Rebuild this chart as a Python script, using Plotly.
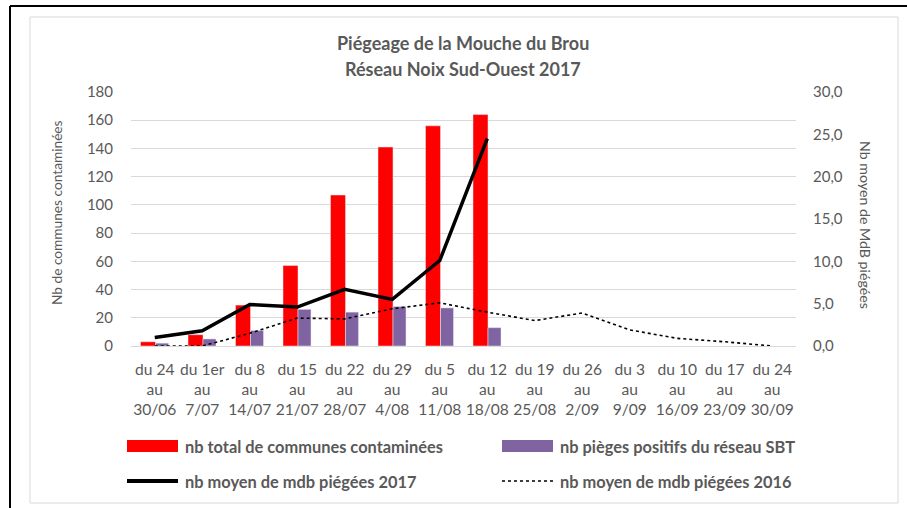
import plotly.graph_objects as go

# ---------------- data ----------------
periods = ["du 24<br>au<br>30/06", "du 1er<br>au<br>7/07", "du 8<br>au<br>14/07",
           "du 15<br>au<br>21/07", "du 22<br>au<br>28/07", "du 29<br>au<br>4/08",
           "du 5<br>au<br>11/08", "du 12<br>au<br>18/08", "du 19<br>au<br>25/08",
           "du 26<br>au<br>2/09", "du 3<br>au<br>9/09", "du 10<br>au<br>16/09",
           "du 17<br>au<br>23/09", "du 24<br>au<br>30/09"]
communes_contaminees = [3, 8, 29, 57, 107, 141, 156, 164, None, None, None, None, None, None]
pieges_positifs = [2, 5, 11, 26, 24, 28, 27, 13, None, None, None, None, None, None]
mdb_2017 = [1.0, 1.8, 4.9, 4.6, 6.7, 5.5, 10.1, 24.5, None, None, None, None, None, None]
mdb_2016 = [0.0, 0.0, 1.5, 3.3, 3.2, 4.4, 5.1, 4.0, 3.0, 3.9, 1.9, 0.9, 0.5, 0.0]

names = ["nb total de communes contaminées", "nb pièges positifs du réseau SBT",
         "nb moyen de mdb piégées 2017", "nb moyen de mdb piégées 2016"]

# ---------------- styling ----------------
W, H = 907, 508
L, R, T, B = 131, 796, 92, 346
GRAY = "#595959"
FONT = "Lato"
RED = "#ff0000"
PURPLE = "#8064a2"


def px(x):
    return (x - L) / (R - L)


def py(y):
    return (B - y) / (B - T)


fig = go.Figure()
fig.add_trace(go.Bar(x=periods, y=communes_contaminees, name=names[0], marker_color=RED,
                     offset=-0.30, width=0.316, showlegend=False))
fig.add_trace(go.Bar(x=periods, y=pieges_positifs, name=names[1], marker_color=PURPLE,
                     offset=0.016, width=0.274, showlegend=False))
fig.add_trace(go.Scatter(x=periods, y=mdb_2016, name=names[3], yaxis="y2", mode="lines",
                         line=dict(color="black", width=1.6, dash="dot"), showlegend=False))
fig.add_trace(go.Scatter(x=periods, y=mdb_2017, name=names[2], yaxis="y2", mode="lines",
                         line=dict(color="black", width=3.5), showlegend=False))

shapes = [
    # outer black frame (open to right/bottom)
    dict(type="line", xref="paper", yref="paper", x0=px(10), x1=px(10), y0=py(6), y1=py(520),
         line=dict(color="black", width=2)),
    dict(type="line", xref="paper", yref="paper", x0=px(10), x1=px(920), y0=py(6), y1=py(6),
         line=dict(color="black", width=2)),
    # chart area border
    dict(type="rect", xref="paper", yref="paper", x0=px(30), x1=px(898), y0=py(17), y1=py(503),
         line=dict(color="#d9d9d9", width=1), layer="below"),
    # legend swatches
    dict(type="rect", xref="paper", yref="paper", x0=px(127), x1=px(178), y0=py(440), y1=py(452),
         fillcolor=RED, line=dict(width=0)),
    dict(type="rect", xref="paper", yref="paper", x0=px(502), x1=px(553), y0=py(440), y1=py(452),
         fillcolor=PURPLE, line=dict(width=0)),
    dict(type="line", xref="paper", yref="paper", x0=px(127), x1=px(178), y0=py(481), y1=py(481),
         line=dict(color="black", width=4)),
    dict(type="line", xref="paper", yref="paper", x0=px(502), x1=px(553), y0=py(481), y1=py(481),
         line=dict(color="black", width=1.5, dash="dot")),
]

annotations = [
    dict(text="<b>Piégeage de la Mouche du Brou</b>", x=px(463), y=py(43), xref="paper", yref="paper",
         showarrow=False, font=dict(size=18, color=GRAY, family=FONT), xanchor="center", yanchor="middle"),
    dict(text="<b>Réseau Noix Sud-Ouest 2017</b>", x=px(463), y=py(69), xref="paper", yref="paper",
         showarrow=False, font=dict(size=18, color=GRAY, family=FONT), xanchor="center", yanchor="middle"),
    dict(text="Nb de communes contaminées", x=px(56), y=py(213), xref="paper", yref="paper",
         showarrow=False, textangle=-90, font=dict(size=13.7, color=GRAY, family=FONT),
         xanchor="center", yanchor="middle"),
    dict(text="Nb moyen de MdB piégées", x=px(866), y=py(225), xref="paper", yref="paper",
         showarrow=False, textangle=90, font=dict(size=14.2, color=GRAY, family=FONT),
         xanchor="center", yanchor="middle"),
]
legend_pos = [(183, 446), (558, 446), (183, 481), (558, 481)]
for nm, (lx, ly) in zip(names, legend_pos):
    annotations.append(dict(text="<b>" + nm + "</b>", x=px(lx), y=py(ly), xref="paper", yref="paper",
                            showarrow=False, xanchor="left", yanchor="middle",
                            font=dict(size=16.4, color=GRAY, family=FONT)))

fig.update_layout(
    width=W, height=H,
    margin=dict(l=L, r=W - R, t=T, b=H - B, pad=0),
    paper_bgcolor="white", plot_bgcolor="white",
    barmode="overlay",
    separators=", ",
    font=dict(family=FONT, color=GRAY, size=15),
    xaxis=dict(type="category", showgrid=False, showline=False, zeroline=False,
               tickfont=dict(size=15.6, color=GRAY, family=FONT), ticks="", ticklabelstandoff=12,
               tickangle=0, range=[-0.5, len(periods) - 0.5]),
    yaxis=dict(range=[0, 180], dtick=20, showgrid=True, gridcolor="#d9d9d9", gridwidth=1,
               zeroline=True, zerolinecolor="#d9d9d9", zerolinewidth=1, showline=False,
               tickfont=dict(size=15, color=GRAY, family=FONT), ticklabelstandoff=17),
    yaxis2=dict(range=[0, 30], dtick=5, overlaying="y", side="right", showgrid=False,
                zeroline=False, showline=False, tickformat=".1f",
                tickfont=dict(size=15, color=GRAY, family=FONT), ticklabelstandoff=16),
    shapes=shapes,
    annotations=annotations,
    showlegend=False,
)

fig.write_html("out.html", config={"displayModeBar": False},
               post_script="document.body.style.margin='0';document.body.style.overflow='hidden';")
